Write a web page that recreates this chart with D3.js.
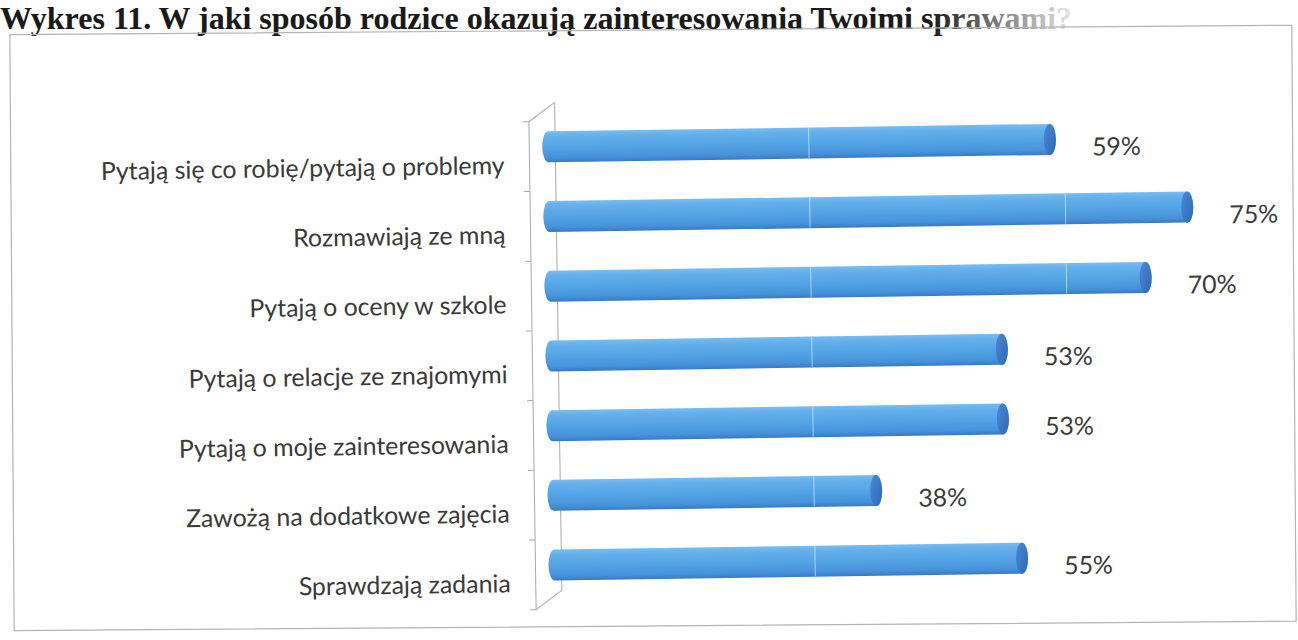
<!DOCTYPE html>
<html><head><meta charset="utf-8">
<script src="https://cdn.jsdelivr.net/npm/d3@7"></script>
<style>html,body{margin:0;padding:0;background:#fff;overflow:hidden} svg{display:block}</style>
</head><body>
<svg id="chart" width="1298" height="640"></svg>
<script>
const titleText = "Wykres 11. W jaki sposób rodzice okazują zainteresowania Twoimi sprawami?";
const categories = [
  "Pytają się co robię/pytają o problemy",
  "Rozmawiają ze mną",
  "Pytają o oceny w szkole",
  "Pytają o relacje ze znajomymi",
  "Pytają o moje zainteresowania",
  "Zawożą na dodatkowe zajęcia",
  "Sprawdzają zadania"
];
const values = [0.59, 0.75, 0.70, 0.53, 0.53, 0.38, 0.55];
const gridTicks = [0.3, 0.6];

const W = 1298, H = 640, cx = 649, cy = 330;
const svg = d3.select("#chart");
const defs = svg.append("defs");

const bodyGrad = defs.append("linearGradient").attr("id","body").attr("x1",0).attr("y1",0).attr("x2",0).attr("y2",1);
[["0%","#78bdf0"],["18%","#62afeb"],["55%","#52a2e4"],["85%","#4692da"],["100%","#3879c5"]]
  .forEach(([o,c]) => bodyGrad.append("stop").attr("offset",o).attr("stop-color",c));
const capGrad = defs.append("linearGradient").attr("id","cap").attr("x1",0).attr("y1",0).attr("x2",1).attr("y2",1);
[["0%","#4a89d5"],["100%","#2f68b6"]].forEach(([o,c]) => capGrad.append("stop").attr("offset",o).attr("stop-color",c));
const titleGrad = defs.append("linearGradient").attr("id","tfade").attr("gradientUnits","userSpaceOnUse")
  .attr("x1",930).attr("y1",0).attr("x2",1080).attr("y2",0);
[["0%","#1a1a1a"],["45%","#7a7a7a"],["100%","#f2f2f2"]].forEach(([o,c]) => titleGrad.append("stop").attr("offset",o).attr("stop-color",c));

// ---- title
svg.append("text").attr("x",0).attr("y",29)
  .attr("font-family","'Liberation Serif', 'Times New Roman', serif").attr("font-weight","bold")
  .attr("font-size",32).attr("fill","url(#tfade)").text(titleText);

// ---- frame (scan is slightly skewed)
const gFrame = svg.append("g").attr("transform", `rotate(-0.42 ${cx} ${cy})`);
gFrame.append("rect").attr("x",12).attr("y",30).attr("width",1282).attr("height",596)
  .attr("fill","none").attr("stroke","#b4b4b4").attr("stroke-width",1.2);

// ---- chart
const g = svg.append("g").attr("transform", `rotate(-0.85 ${cx} ${cy})`);
const frontX = 532, depthX = 26, depthY = -19;
const y = d3.scaleBand().domain(categories).range([120, 608]);
const x = d3.scaleLinear().domain([0, 1]).range([556, 1408]);
const bw = y.bandwidth();
const font = "Lato, 'Open Sans', sans-serif";

// 3D wall lines
const axisCol = "#a9a9a9";
const yTop = y.range()[0], yBot = y.range()[1];
g.append("line").attr("x1",frontX).attr("x2",frontX).attr("y1",yTop).attr("y2",yBot).attr("stroke",axisCol);
g.append("line").attr("x1",frontX+depthX).attr("x2",frontX+depthX).attr("y1",yTop+depthY).attr("y2",yBot+depthY).attr("stroke",axisCol);
g.append("line").attr("x1",frontX).attr("x2",frontX+depthX).attr("y1",yTop).attr("y2",yTop+depthY).attr("stroke",axisCol);
g.append("line").attr("x1",frontX).attr("x2",frontX+depthX).attr("y1",yBot).attr("y2",yBot+depthY).attr("stroke",axisCol);
const tickYs = categories.map(c => y(c)).concat([yBot]);
g.selectAll("line.tick").data(tickYs).join("line").attr("class","tick")
  .attr("x1",frontX-6).attr("x2",frontX).attr("y1",d=>d).attr("y2",d=>d).attr("stroke",axisCol);

// category labels
const catText = g.selectAll("text.cat").data(categories).join("text").attr("class","cat")
  .attr("x", 507).attr("y", d => y(d) + bw/2 + 17)
  .attr("text-anchor","end").attr("font-family",font).attr("font-size",20)
  .attr("fill","#3a3a3a").text(d => d);
const longest = d3.max(catText.nodes(), n => n.getComputedTextLength());
const fs = 20 * 404 / longest;
catText.attr("font-size", fs);

// cylinders
const ry = 15.5, rx = 6;
const data = categories.map((c,i) => ({c, v: values[i]}));
const bars = g.selectAll("g.bar").data(data).join("g").attr("class","bar");
bars.each(function(d){
  const gb = d3.select(this);
  const cyb = y(d.c) + bw/2 + depthY/2;
  const xl = frontX + depthX/2 + rx;
  const xr = x(d.v) - rx;
  gb.append("path")
    .attr("d", `M${xl},${cyb-ry} L${xr},${cyb-ry} A${rx},${ry} 0 0 1 ${xr},${cyb+ry} L${xl},${cyb+ry} A${rx},${ry} 0 0 1 ${xl},${cyb-ry} Z`)
    .attr("fill","url(#body)");
  gridTicks.filter(t => x(t) < xr - 2).forEach(t => {
    gb.append("line").attr("x1",x(t)).attr("x2",x(t)).attr("y1",cyb-ry+0.5).attr("y2",cyb+ry-0.5)
      .attr("stroke","rgba(235,245,255,0.6)").attr("stroke-width",1);
  });
  gb.append("ellipse").attr("cx",xr).attr("cy",cyb).attr("rx",rx).attr("ry",ry)
    .attr("fill","url(#cap)");
});

// value labels
g.selectAll("text.val").data(data).join("text").attr("class","val")
  .attr("x", d => x(d.v) + 36)
  .attr("y", d => y(d.c) + bw/2 + depthY/2 + 8)
  .attr("dy","0.35em")
  .attr("font-family",font).attr("font-size",fs).attr("fill","#3a3a3a")
  .text(d => d3.format(".0%")(d.v));
</script>
</body></html>
